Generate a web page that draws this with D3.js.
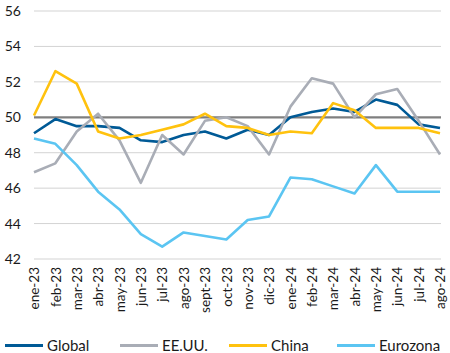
<!DOCTYPE html>
<html>
<head>
<meta charset="utf-8">
<script src="https://cdn.jsdelivr.net/npm/d3@7"></script>
<style>
  body { margin: 0; background: #fff; }
  text { font-family: Lato, "Noto Sans", sans-serif; fill: #1a1a1a; }
</style>
</head>
<body>
<div id="chart"></div>
<script>
// Data
const months = ['ene-23', 'feb-23', 'mar-23', 'abr-23', 'may-23', 'jun-23', 'jul-23', 'ago-23',
  'sept-23', 'oct-23', 'nov-23', 'dic-23', 'ene-24', 'feb-24', 'mar-24', 'abr-24',
  'may-24', 'jun-24', 'jul-24', 'ago-24']
const global = [49.1, 49.9, 49.5, 49.5, 49.4, 48.7, 48.6, 49.0, 49.2, 48.8,
  49.3, 49.0, 50.0, 50.3, 50.5, 50.3, 51.0, 50.7, 49.6, 49.4]
const eeuu = [46.9, 47.4, 49.2, 50.2, 48.7, 46.3, 49.0, 47.9, 49.8, 50.0,
  49.5, 47.9, 50.6, 52.2, 51.9, 50.0, 51.3, 51.6, 49.8, 47.9]
const china = [50.1, 52.6, 51.9, 49.2, 48.8, 49.0, 49.3, 49.6, 50.2, 49.5,
  49.4, 49.0, 49.2, 49.1, 50.8, 50.4, 49.4, 49.4, 49.4, 49.1]
const eurozona = [48.8, 48.5, 47.3, 45.8, 44.8, 43.4, 42.7, 43.5, 43.3, 43.1,
  44.2, 44.4, 46.6, 46.5, 46.1, 45.7, 47.3, 45.8, 45.8, 45.8]
const yTicks = [42, 44, 46, 48, 50, 52, 54, 56]

const series = [
  { name: 'Global', values: global, color: '#005a96' },
  { name: 'EE.UU.', values: eeuu, color: '#a9adb6' },
  { name: 'China', values: china, color: '#ffc20e' },
  { name: 'Eurozona', values: eurozona, color: '#5bc5f2' }
]

// Dimensions
const width = 450
const height = 353
const margin = { top: 11, right: 9, bottom: 94, left: 34 }
const innerWidth = width - margin.left - margin.right
const innerHeight = height - margin.top - margin.bottom

const svg = d3.select('#chart')
  .append('svg')
  .attr('width', width)
  .attr('height', height)
  .style('display', 'block')

const g = svg.append('g')
  .attr('transform', `translate(${margin.left}, ${margin.top})`)

// Scales
const x = d3.scalePoint().domain(months).range([0, innerWidth - 1])
const y = d3.scaleLinear().domain([42, 56]).range([innerHeight, 0])

// Y gridlines
g.append('g')
  .selectAll('line')
  .data(yTicks)
  .join('line')
  .attr('x1', 0)
  .attr('x2', innerWidth)
  .attr('y1', d => y(d))
  .attr('y2', d => y(d))
  .attr('stroke', d => d === 50 ? '#7f7f7f' : '#d3d3d3')
  .attr('stroke-width', d => d === 50 ? 2.2 : 1)

// Y labels
g.append('g')
  .call(d3.axisLeft(y).tickValues(yTicks).tickSize(0).tickPadding(13).tickFormat(d3.format('d')))
  .call(a => a.select('.domain').remove())
  .selectAll('text')
  .style('font-size', '14px')
  .attr('fill', '#1a1a1a')

// X labels
g.append('g')
  .attr('transform', `translate(0, ${innerHeight})`)
  .call(d3.axisBottom(x).tickSize(0).tickPadding(0))
  .call(a => a.select('.domain').remove())
  .selectAll('text')
  .style('font-size', '13.5px')
  .attr('fill', '#1a1a1a')
  .attr('text-anchor', 'end')
  .attr('transform', 'rotate(-90)')
  .attr('x', -8)
  .attr('y', 0)
  .attr('dy', '0.35em')

// Lines
const line = d3.line()
  .x((d, i) => x(months[i]))
  .y(d => y(d))

g.selectAll('.series')
  .data(series)
  .join('path')
  .attr('class', 'series')
  .attr('fill', 'none')
  .attr('stroke', d => d.color)
  .attr('stroke-width', 2.6)
  .attr('stroke-linejoin', 'round')
  .attr('d', d => line(d.values))

// Legend
const legendX = [5, 120, 229, 337]
const legend = svg.append('g')
  .selectAll('g')
  .data(series)
  .join('g')
  .attr('transform', (d, i) => `translate(${legendX[i]}, 345.5)`)

legend.append('line')
  .attr('x1', 0)
  .attr('x2', 38)
  .attr('stroke', d => d.color)
  .attr('stroke-width', 3)

legend.append('text')
  .attr('x', 42)
  .attr('dy', '0.35em')
  .style('font-size', '15px')
  .text(d => d.name)
</script>
</body>
</html>
